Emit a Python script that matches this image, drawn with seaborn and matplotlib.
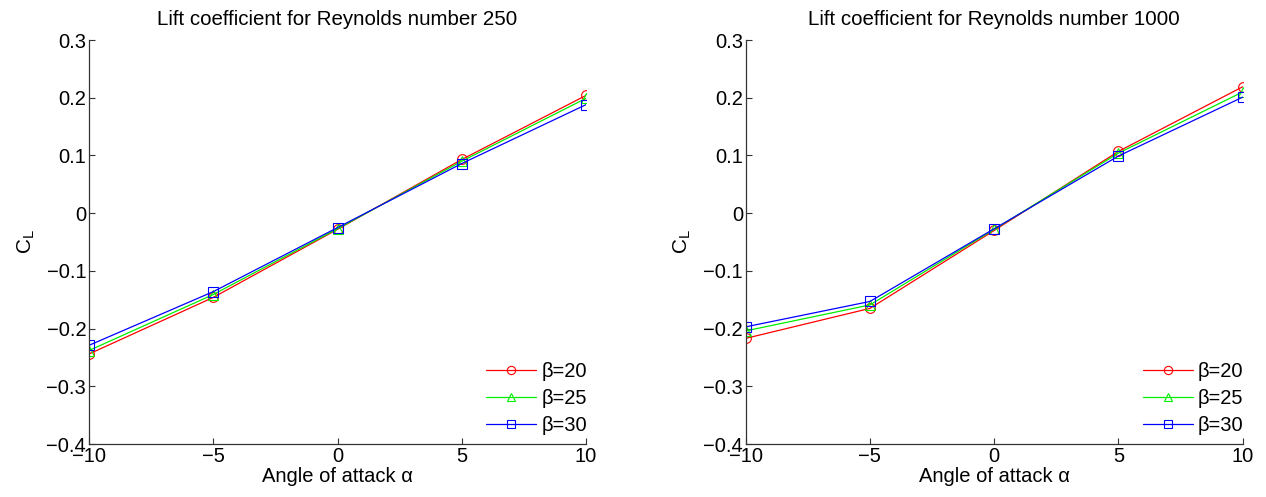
import matplotlib
matplotlib.use("Agg")
import matplotlib.pyplot as plt
import pandas as pd
import seaborn as sns

# angle of attack
alpha = [-10, -5, 0, 5, 10]
betas = [20, 25, 30]

# lift coefficient, Re = 250
cl_250_b20 = [-0.244, -0.146, -0.028, 0.093, 0.204]
cl_250_b25 = [-0.238, -0.141, -0.027, 0.090, 0.199]
cl_250_b30 = [-0.229, -0.136, -0.025, 0.086, 0.188]

# lift coefficient, Re = 1000
cl_1000_b20 = [-0.217, -0.165, -0.030, 0.107, 0.219]
cl_1000_b25 = [-0.204, -0.159, -0.028, 0.104, 0.210]
cl_1000_b30 = [-0.197, -0.153, -0.027, 0.099, 0.201]

sns.set_style("ticks")
plt.rcParams["font.family"] = ["Liberation Sans", "DejaVu Sans"]
plt.rcParams["mathtext.default"] = "regular"
plt.rcParams["text.color"] = "black"
plt.rcParams["axes.labelcolor"] = "black"


def make_df(series):
    rows = []
    for b, vals in zip(betas, series):
        for a, v in zip(alpha, vals):
            rows.append({"alpha": a, "CL": v, "beta": f"\u03b2={b}"})
    return pd.DataFrame(rows)


panels = [
    ("Lift coefficient for Reynolds number 250", [cl_250_b20, cl_250_b25, cl_250_b30]),
    ("Lift coefficient for Reynolds number 1000", [cl_1000_b20, cl_1000_b25, cl_1000_b30]),
]
palette = ["#ff0000", "#00ee00", "#0000ff"]
markers = ["o", "^", "s"]

fig = plt.figure(figsize=(12.66, 4.97), dpi=100)
lefts = [0.0703, 0.589]
for (title, series), left in zip(panels, lefts):
    ax = fig.add_axes([left, 0.1066, 0.3926, 0.8129])
    df = make_df(series)
    sns.lineplot(data=df, x="alpha", y="CL", hue="beta", style="beta",
                 palette=palette, markers=markers, dashes=False,
                 linewidth=0.9, markersize=7, legend=False, ax=ax)
    for line, c in zip(ax.lines, palette):
        line.set_markerfacecolor("none")
        line.set_markeredgecolor(c)
        line.set_markeredgewidth(0.8)
    ax.legend(ax.lines, [f"\u03b2={b}" for b in betas], loc="lower right",
              bbox_to_anchor=(1.02, 0.0), frameon=False, fontsize=14.5,
              handlelength=2.5, borderaxespad=0.05, labelspacing=0.4,
              handletextpad=0.25, markerscale=0.85)
    ax.set_xlim(-10, 10)
    ax.set_ylim(-0.4, 0.3)
    ax.set_xticks([-10, -5, 0, 5, 10])
    ax.set_yticks([-0.4, -0.3, -0.2, -0.1, 0, 0.1, 0.2, 0.3])
    ax.set_yticklabels(["\u22120.4", "\u22120.3", "\u22120.2", "\u22120.1", "0", "0.1", "0.2", "0.3"])
    ax.tick_params(direction="in", length=4, width=0.8, labelsize=14.5, pad=2, colors="#333333",
                   labelcolor="black")
    for s in ["top", "right"]:
        ax.spines[s].set_visible(False)
    for s in ["left", "bottom"]:
        ax.spines[s].set_color("#333333")
        ax.spines[s].set_linewidth(0.9)
    ax.set_xlabel("Angle of attack \u03b1", fontsize=14.5, labelpad=1)
    ax.set_ylabel("C$_L$", fontsize=15)
    ax.yaxis.set_label_coords(-0.105, 0.5)
    ax.set_title(title, fontsize=14.8, pad=11, color="black")

fig.savefig("out.png", dpi=100)
